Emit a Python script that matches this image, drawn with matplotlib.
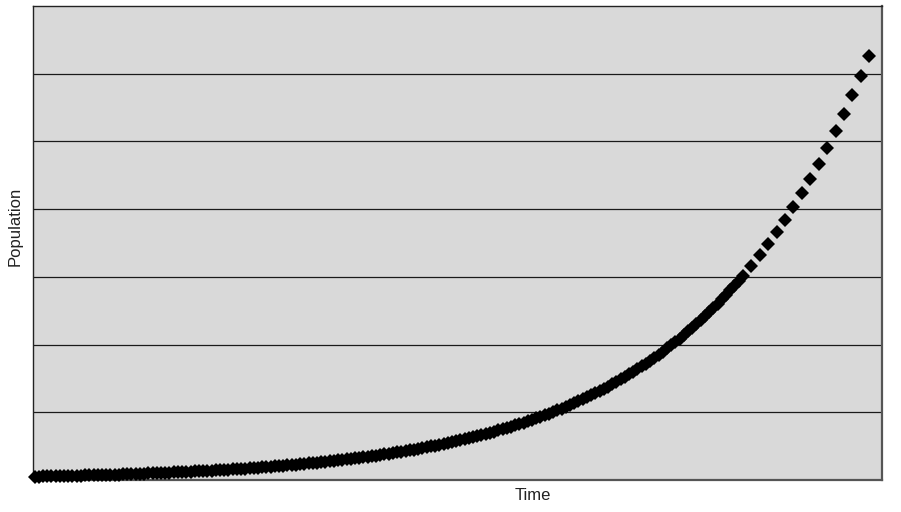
import numpy as np
import matplotlib
matplotlib.use("Agg")
import matplotlib.pyplot as plt

# Population, half-step samples from t=0 to t=84
fine_pop = [
    5.0, 5.1, 5.3, 5.4, 5.5, 5.7, 5.8, 5.9, 6.1, 6.2,
    6.4, 6.5, 6.7, 6.9, 7.0, 7.2, 7.4, 7.6, 7.8, 8.0,
    8.1, 8.3, 8.6, 8.8, 9.0, 9.2, 9.4, 9.7, 9.9, 10.1,
    10.4, 10.7, 10.9, 11.2, 11.5, 11.7, 12.0, 12.3, 12.6, 12.9,
    13.3, 13.6, 13.9, 14.3, 14.6, 15.0, 15.4, 15.7, 16.1, 16.5,
    16.9, 17.4, 17.8, 18.2, 18.7, 19.1, 19.6, 20.1, 20.6, 21.1,
    21.6, 22.1, 22.7, 23.3, 23.8, 24.4, 25.0, 25.6, 26.3, 26.9,
    27.6, 28.3, 29.0, 29.7, 30.4, 31.2, 31.9, 32.7, 33.5, 34.4,
    35.2, 36.1, 37.0, 37.9, 38.8, 39.8, 40.8, 41.8, 42.8, 43.9,
    44.9, 46.0, 47.2, 48.3, 49.5, 50.8, 52.0, 53.3, 54.6, 56.0,
    57.3, 58.8, 60.2, 61.7, 63.2, 64.8, 66.4, 68.0, 69.7, 71.4,
    73.2, 75.0, 76.8, 78.7, 80.7, 82.7, 84.7, 86.8, 89.0, 91.2,
    93.4, 95.7, 98.1, 100.5, 103.0, 105.5, 108.1, 110.8, 113.5, 116.3,
    119.2, 122.1, 125.2, 128.3, 131.4, 134.7, 138.0, 141.4, 144.9, 148.5,
    152.1, 155.9, 159.7, 163.7, 167.7, 171.9, 176.1, 180.5, 184.9, 189.5,
    194.2, 199.0, 203.9, 208.9, 214.1, 219.4, 224.8, 230.3, 236.0, 241.8,
    247.8, 253.9, 260.2, 266.6, 273.2, 280.0, 286.9, 294.0, 301.2,
]
fine_time = np.arange(0, 84.5, 0.5)

# Whole-step samples from t=85 to t=99
coarse_time = [85, 86, 87, 88, 89, 90, 91, 92, 93, 94, 95, 96, 97, 98, 99]
coarse_pop = [316.3, 332.1, 348.7, 366.1, 384.4, 403.7, 423.8, 445.0,
              467.3, 490.6, 515.2, 540.9, 568.0, 596.4, 626.2]

grid_levels = [100, 200, 300, 400, 500, 600]

plt.rcParams['font.family'] = ['Liberation Sans', 'DejaVu Sans']

fig = plt.figure(figsize=(9.01, 5.12), dpi=100)
ax = fig.add_axes([33 / 901, 1 - 480 / 512, 849 / 901, 474 / 512])
ax.set_facecolor('#d9d9d9')

for y in grid_levels:
    ax.axhline(y, color='#1a1a1a', lw=0.9, zorder=1)

style = dict(linestyle='none', marker='D', ms=7.4, mew=0, color='black',
             clip_on=False, zorder=3)
ax.plot(fine_time, fine_pop, **style)
ax.plot(coarse_time, coarse_pop, **style)

ax.set_xlim(-0.18, 100.5)
ax.set_ylim(0, 700)
ax.set_xticks([])
ax.set_yticks([])

for side in ['left', 'top']:
    ax.spines[side].set_color('#222222')
    ax.spines[side].set_linewidth(1.0)
for side in ['right', 'bottom']:
    ax.spines[side].set_color('#555555')
    ax.spines[side].set_linewidth(1.6)

fig.text(533 / 901, 1 - 496 / 512, 'Time', ha='center', va='center',
         fontsize=12, color='#222222')
fig.text(15 / 901, 1 - 226 / 512, 'Population', ha='center', va='center',
         rotation=90, fontsize=12, color='#222222')

fig.savefig('out.png', dpi=100)
